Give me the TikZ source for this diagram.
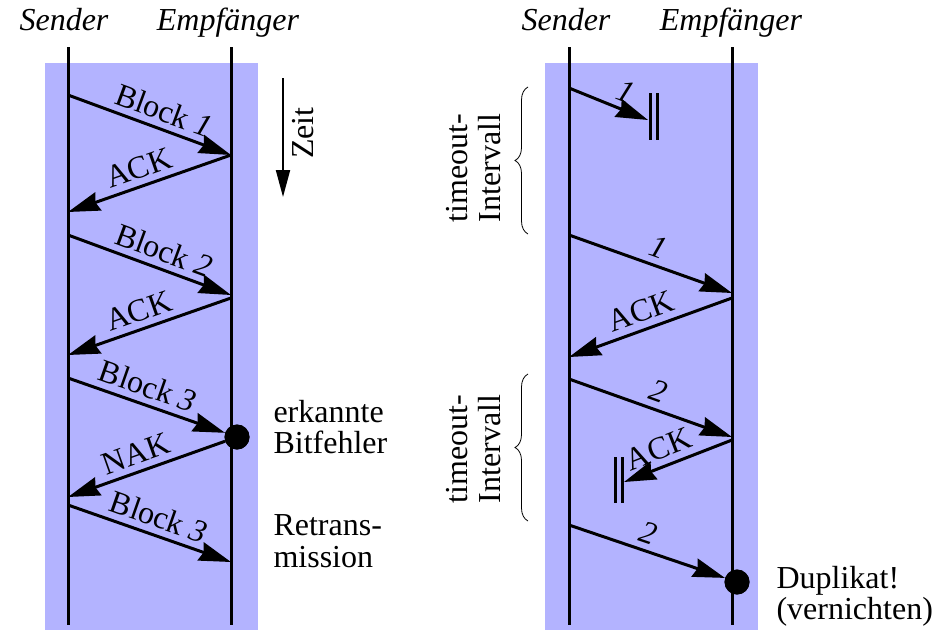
\documentclass[tikz,border=0pt]{standalone}
\usepackage{fontspec}
\setmainfont{Liberation Serif}
\usetikzlibrary{arrows.meta,decorations.pathreplacing}
\definecolor{bgblue}{RGB}{179,179,255}
\begin{document}
\begin{tikzpicture}[x=1pt,y=-1pt,
  every node/.style={font=\fontsize{32}{33}\selectfont},
  head/.style={anchor=base,font=\fontsize{32}{33}\selectfont\itshape},
  side/.style={anchor=base west},
  lifeline/.style={line width=3pt},
  msg/.style={line width=3pt,-{Stealth[length=32pt,width=19pt,inset=3pt]}},
  lab/.style={sloped,above=6pt,inner sep=0pt},
  bar/.style={line width=3pt},
  dotmark/.style={circle,fill=black,minimum size=25pt,inner sep=0pt},
  brc/.style={decorate,decoration={brace,amplitude=13pt},line width=0.8pt},
  timearrow/.style={line width=2pt,-{Triangle[length=27pt,width=14pt]}}
]
\useasboundingbox (0,0) rectangle (944,630);
% backgrounds
\fill[bgblue] (45,63) rectangle (258,630);
\fill[bgblue] (545,63) rectangle (758,630);
% headers
\node[head] (hs1) at (64,30) {Sender};
\node[head] (he1) at (228,30) {Empfänger};
\node[head] (hs2) at (566,30) {Sender};
\node[head] (he2) at (731,30) {Empfänger};
% lifelines
\coordinate (s1t) at (68,47);  \coordinate (s1b) at (68,625);
\coordinate (e1t) at (231,47); \coordinate (e1b) at (231,625);
\coordinate (s2t) at (569,47); \coordinate (s2b) at (569,625);
\coordinate (e2t) at (732,47); \coordinate (e2b) at (732,625);
\draw[lifeline] (s1t) -- (s1b);
\draw[lifeline] (e1t) -- (e1b);
\draw[lifeline] (s2t) -- (s2b);
\draw[lifeline] (e2t) -- (e2b);
% left panel points
\coordinate (a1) at (68,95);
\coordinate (a2) at (231,155);
\coordinate (a3) at (68,212);
\coordinate (a4) at (68,235);
\coordinate (a5) at (231,295);
\coordinate (a6) at (231,298);
\coordinate (a7) at (68,355);
\coordinate (a8) at (68,378);
\node[dotmark] (d1) at (237,437) {};
\coordinate (a10) at (68,497);
\coordinate (a11) at (68,505);
\coordinate (a12) at (231,562);
\draw[msg] (a1) -- node[lab,pos=0.55] {Block {\itshape 1}} (a2);
\draw[msg] (a2) -- node[lab,pos=0.53] {ACK} (a3);
\draw[msg] (a4) -- node[lab,pos=0.55] {Block {\itshape 2}} (a5);
\draw[msg] (a6) -- node[lab,pos=0.53] {ACK} (a7);
\draw[msg] (a8) -- node[lab,pos=0.47] {Block {\itshape 3}} (d1);
\draw[msg] (d1) -- node[lab,pos=0.53] {NAK} (a10);
\draw[msg] (a11) -- node[lab,pos=0.52] {Block {\itshape 3}} (a12);
\node[dotmark] at (d1) {};
% left side texts
\node[side] (t1a) at (270,422) {erkannte};
\node[side] (t1b) at (270,453) {Bitfehler};
\node[side] (t2a) at (270,535) {Retrans-};
\node[side] (t2b) at (270,567) {mission};
% Zeit
\coordinate (z1) at (283,78);
\coordinate (z2) at (283,197);
\draw[timearrow] (z1) -- (z2);
\node[rotate=90] (zeit) at (303,133) {Zeit};
% right panel points
\coordinate (b1) at (569,88);
\coordinate (b2) at (648,120);
\coordinate (b3) at (569,235);
\coordinate (b4) at (732,293);
\coordinate (b5) at (732,298);
\coordinate (b6) at (569,357);
\coordinate (b7) at (569,379);
\coordinate (b8) at (732,437);
\coordinate (b9) at (732,440);
\coordinate (b10) at (624,482);
\coordinate (b11) at (569,525);
\node[dotmark] (d2) at (737,582) {};
\draw[msg] (b1) -- node[lab,pos=0.63] {\itshape 1} (b2);
\draw[msg] (b3) -- node[lab,pos=0.51] {\itshape 1} (b4);
\draw[msg] (b5) -- node[lab,pos=0.52] {ACK} (b6);
\draw[msg] (b7) -- node[lab,pos=0.51] {\itshape 2} (b8);
\draw[msg] (b9) -- node[lab,pos=0.62] {ACK} (b10);
\draw[msg] (b11) -- node[lab,pos=0.47] {\itshape 2} (d2);
\node[dotmark] at (d2) {};
% loss bars
\coordinate (p1t) at (650,93);  \coordinate (p1b) at (650,140);
\coordinate (p2t) at (657,93);  \coordinate (p2b) at (657,140);
\coordinate (q1t) at (615,457); \coordinate (q1b) at (615,503);
\coordinate (q2t) at (622,457); \coordinate (q2b) at (622,503);
\draw[bar] (p1t) -- (p1b);
\draw[bar] (p2t) -- (p2b);
\draw[bar] (q1t) -- (q1b);
\draw[bar] (q2t) -- (q2b);
% braces
\coordinate (r1b) at (528,234); \coordinate (r1t) at (528,87);
\coordinate (r2b) at (528,521); \coordinate (r2t) at (528,374);
\draw[brc] (r1b) -- (r1t);
\draw[brc] (r2b) -- (r2t);
\node[rotate=90,align=left] (to1) at (474,168) {timeout-\\Intervall};
\node[rotate=90,align=left] (to2) at (474,449) {timeout-\\Intervall};
% right side texts
\node[side] (t3a) at (773,588) {Duplikat!};
\node[side] (t3b) at (773,619) {(vernichten)};
\end{tikzpicture}
\end{document}
